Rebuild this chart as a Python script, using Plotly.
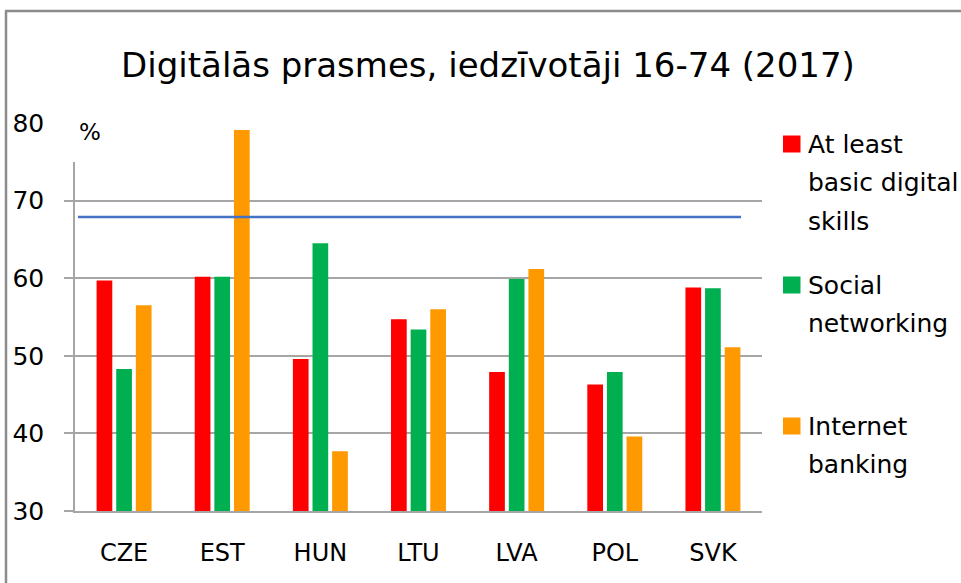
import plotly.graph_objects as go

# ---- data ----
categories = ["CZE", "EST", "HUN", "LTU", "LVA", "POL", "SVK"]
basic_skills = [59.7, 60.2, 49.6, 54.7, 47.9, 46.3, 58.8]
social_networking = [48.3, 60.2, 64.5, 53.4, 59.9, 47.9, 58.7]
internet_banking = [56.5, 79.1, 37.7, 56.0, 61.2, 39.6, 51.1]
reference_level = 67.9
series_names = ["At least basic digital skills", "Social networking", "Internet banking"]
legend_lines = [["At least", "basic digital", "skills"], ["Social", "networking"], ["Internet", "banking"]]
y_ticks = [30, 40, 50, 60, 70, 80]
title_text = "Digitālās prasmes, iedzīvotāji 16-74 (2017)"
unit_text = "%"

# ---- style ----
colors = ["#FF0000", "#00B050", "#FF9900"]
FONT = "DejaVu Sans"
GRID = "#A6A6A6"
W, H = 961, 583
L, R, T, B = 75, 199, 123, 72
PW, PH = W - L - R, H - T - B


def px(x):
    return (x - L) / PW


def py(y):
    return (H - B - y) / PH


fig = go.Figure()
for name, vals, col in zip(series_names, [basic_skills, social_networking, internet_banking], colors):
    fig.add_trace(go.Bar(x=categories, y=vals, name=name, marker=dict(color=col, line=dict(width=0)),
                         showlegend=False))

shapes = []
# reference line
shapes.append(dict(type="line", xref="paper", yref="y", x0=px(78), x1=px(741),
                   y0=reference_level, y1=reference_level,
                   line=dict(color="#4472C4", width=2.5), layer="above"))
# white box behind the unit label
shapes.append(dict(type="rect", xref="paper", yref="paper", x0=px(62), x1=px(113),
                   y0=py(162), y1=py(112), fillcolor="white", line=dict(width=0), layer="above"))
# outer frame
shapes.append(dict(type="line", xref="paper", yref="paper", x0=px(6), x1=px(6),
                   y0=py(11), y1=py(600), line=dict(color="#8C8C8C", width=2.5)))
shapes.append(dict(type="line", xref="paper", yref="paper", x0=px(5), x1=px(1000),
                   y0=py(11), y1=py(11), line=dict(color="#8C8C8C", width=2.5)))

annotations = [dict(text=unit_text, xref="paper", yref="paper", x=px(77), y=py(132),
                    xanchor="left", yanchor="middle", showarrow=False,
                    font=dict(family=FONT, size=23, color="#000"))]

# custom legend
item_mid = [144, 285, 426]
line_step = 38.5
for i, (lines, col) in enumerate(zip(legend_lines, colors)):
    m = item_mid[i]
    shapes.append(dict(type="rect", xref="paper", yref="paper", x0=px(783), x1=px(800.5),
                       y0=py(m + 8.5), y1=py(m - 8.5), fillcolor=col, line=dict(width=0)))
    for j, ln in enumerate(lines):
        annotations.append(dict(text=ln, xref="paper", yref="paper", x=px(806), y=py(m + j * line_step),
                                xanchor="left", yanchor="middle", showarrow=False,
                                font=dict(family=FONT, size=25, color="#000")))

fig.update_layout(
    width=W, height=H,
    margin=dict(l=L, r=R, t=T, b=B, pad=0),
    paper_bgcolor="white", plot_bgcolor="white",
    title=dict(text=title_text, x=488 / W, xanchor="center", y=1 - 65 / H, yanchor="middle",
               xref="container", yref="container",
               font=dict(family=FONT, size=34, color="#000")),
    barmode="group", bargap=0.4, bargroupgap=0.2,
    shapes=shapes, annotations=annotations,
    font=dict(family=FONT, color="#000"),
)
fig.update_yaxes(range=[30, 80], tickvals=y_ticks, showgrid=True, gridcolor=GRID, gridwidth=1.5,
                 ticks="outside", ticklen=9, tickcolor=GRID, tickwidth=1.5,
                 showline=True, linecolor=GRID, linewidth=1.5,
                 ticklabelstandoff=15, tickfont=dict(family=FONT, size=25, color="#000"),
                 zeroline=False, fixedrange=True)
fig.update_xaxes(showline=True, linecolor=GRID, linewidth=1.5, ticks="",
                 ticklabelstandoff=19, tickfont=dict(family=FONT, size=24, color="#000"),
                 fixedrange=True)

fig.write_html("out.html", config={"displayModeBar": False},
               post_script="document.body.style.margin='0';document.body.style.overflow='hidden';")
